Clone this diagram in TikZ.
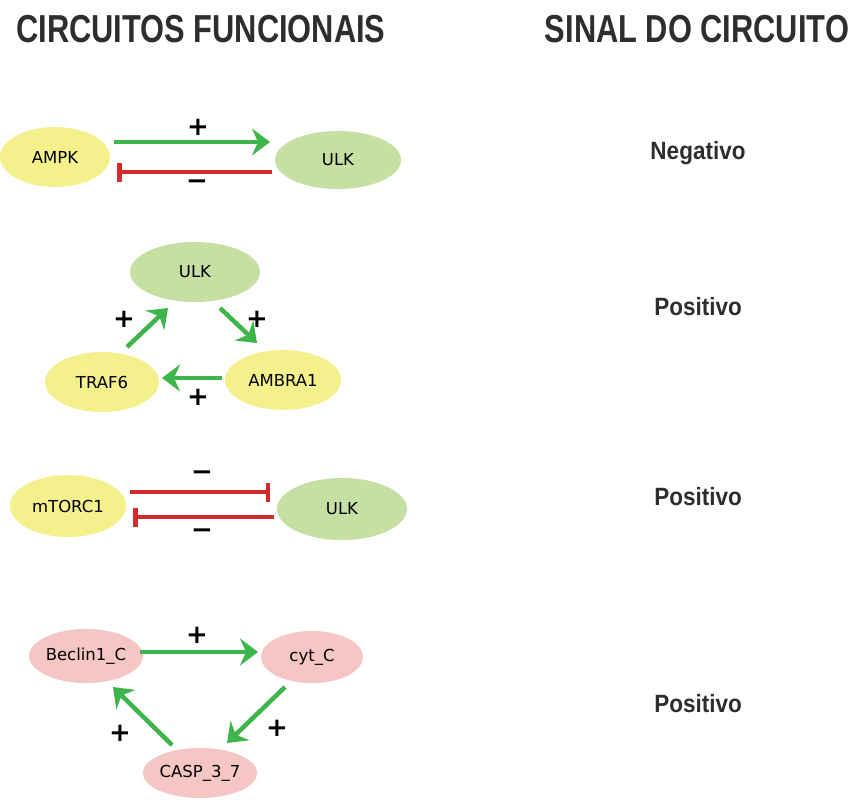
\documentclass[tikz,border=0pt]{standalone}
\usepackage{fontspec}
\usetikzlibrary{shapes.geometric,arrows.meta,calc}
\newfontfamily\headfont[FakeStretch=0.79]{Liberation Sans Bold}
\newfontfamily\signfont[FakeStretch=0.9]{Liberation Sans Bold}
\newfontfamily\nodefont{DejaVu Sans}
\newfontfamily\markfont{DejaVu Sans Bold}
\definecolor{ylw}{HTML}{F4F08C}
\definecolor{grn}{HTML}{C6DFA2}
\definecolor{pnk}{HTML}{F5C6C4}
\definecolor{actg}{HTML}{3DB54A}
\definecolor{inhr}{HTML}{D22B2B}
\definecolor{txt}{HTML}{2E2E2E}
\tikzset{
  gene/.style={ellipse, inner sep=0pt, text=black,
    font=\nodefont\fontsize{16.5}{20}\selectfont},
  yg/.style={gene, fill=ylw},
  gg/.style={gene, fill=grn},
  pg/.style={gene, fill=pnk},
  act/.style={draw=actg, line width=4.5pt,
    -{Stealth[length=18pt, width=27pt, inset=6pt]}},
  inh/.style={draw=inhr, line width=4.5pt, -{Bar[width=19pt]}},
  sgn/.style={font=\markfont\fontsize{26}{26}\selectfont, text=black},
  head/.style={font=\headfont\fontsize{39}{44}\selectfont, text=txt},
  kind/.style={font=\signfont\fontsize{25}{28}\selectfont, text=txt},
}
\begin{document}
\begin{tikzpicture}[x=1pt, y=-1pt]
\useasboundingbox (0,0) rectangle (856,801);
\fill[white] (0,0) rectangle (856,801);

% column headers
\node[head] (h1) at (201,29) {CIRCUITOS FUNCIONAIS};
\node[head] (h2) at (697,29) {SINAL DO CIRCUITO};

% circuit 1: AMPK / ULK
\node[yg, minimum width=110pt, minimum height=60pt] (ampk) at (55,157) {AMPK};
\node[gg, minimum width=126pt, minimum height=58pt] (ulka) at (338,160) {ULK};
\draw[act] ($(ampk)+(59,-15)$) -- ($(ulka)+(-68,-18)$);
\draw[inh] ($(ulka)+(-66,12)$) -- ($(ampk)+(62,15)$);
\node[sgn] (s1) at (198,127) {+};
\node[sgn] (s2) at (197,185) {−};
\node[kind] (k1) at (698,153) {Negativo};

% circuit 2: ULK / AMBRA1 / TRAF6
\node[gg, minimum width=130pt, minimum height=60pt] (ulkb) at (195,272) {ULK};
\node[yg, minimum width=114pt, minimum height=60pt] (traf) at (102,382) {TRAF6};
\node[yg, minimum width=116pt, minimum height=60pt] (ambra) at (283,380) {AMBRA1};
\draw[act] ($(traf)+(25,-35)$) -- ($(ulkb)+(-27,36)$);
\draw[act] ($(ulkb)+(25,36)$) -- ($(ambra)+(-26,-37)$);
\draw[act] ($(ambra)+(-61,-2)$) -- ($(traf)+(60,-4)$);
\node[sgn] (s3) at (124,319) {+};
\node[sgn] (s4) at (257,319) {+};
\node[sgn] (s5) at (198,397) {+};
\node[kind] (k2) at (698,307) {Positivo};

% circuit 3: mTORC1 / ULK
\node[yg, minimum width=116pt, minimum height=62pt] (mtor) at (68,506) {mTORC1};
\node[gg, minimum width=130pt, minimum height=62pt] (ulkc) at (342,509) {ULK};
\draw[inh] ($(mtor)+(62,-14)$) -- ($(ulkc)+(-72,-17)$);
\draw[inh] ($(ulkc)+(-68,8)$) -- ($(mtor)+(65,11)$);
\node[sgn] (s6) at (202,476) {−};
\node[sgn] (s7) at (202,534) {−};
\node[kind] (k3) at (698,497) {Positivo};

% circuit 4: Beclin1_C / cyt_C / CASP_3_7
\node[pg, minimum width=102pt, minimum height=54pt] (bec) at (86,656) {Beclin1\_C};
\node[pg, minimum width=102pt, minimum height=52pt] (cyt) at (312,657) {cyt\_C};
\node[pg, minimum width=104pt, minimum height=50pt] (casp) at (200,773) {CASP\_3\_7};
\draw[act] ($(bec)+(54,-4)$) -- ($(cyt)+(-54,-5)$);
\draw[act] ($(cyt)+(-27,30)$) -- ($(casp)+(27,-30)$);
\draw[act] ($(casp)+(-28,-28)$) -- ($(bec)+(27,31)$);
\node[sgn] (s8) at (197,635) {+};
\node[sgn] (s9) at (277,728) {+};
\node[sgn] (s10) at (120,733) {+};
\node[kind] (k4) at (698,704) {Positivo};
\end{tikzpicture}
\end{document}
